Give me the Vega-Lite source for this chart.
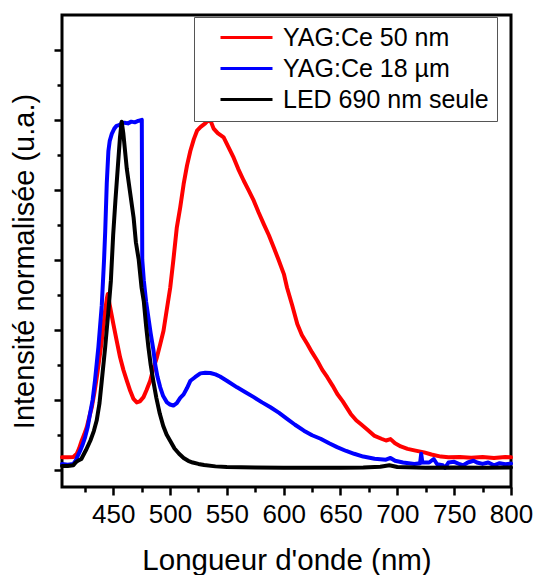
{
  "$schema": "https://vega.github.io/schema/vega-lite/v6.json",
  "width": 449,
  "height": 472,
  "autosize": {"type": "none"},
  "padding": {"left": 62, "top": 15, "right": 23, "bottom": 88},
  "background": "white",
  "config": {"font": "Liberation Sans", "view": {"stroke": "black", "strokeWidth": 3}},
  "data": {"values": [
    {"s": "YAG:Ce 50 nm", "x": 405, "y": 0.035},
    {"s": "YAG:Ce 50 nm", "x": 410, "y": 0.035},
    {"s": "YAG:Ce 50 nm", "x": 415, "y": 0.036},
    {"s": "YAG:Ce 50 nm", "x": 418, "y": 0.045},
    {"s": "YAG:Ce 50 nm", "x": 420, "y": 0.06},
    {"s": "YAG:Ce 50 nm", "x": 422.4, "y": 0.083},
    {"s": "YAG:Ce 50 nm", "x": 424.5, "y": 0.1},
    {"s": "YAG:Ce 50 nm", "x": 426.8, "y": 0.121},
    {"s": "YAG:Ce 50 nm", "x": 429, "y": 0.15},
    {"s": "YAG:Ce 50 nm", "x": 431.2, "y": 0.178},
    {"s": "YAG:Ce 50 nm", "x": 433.5, "y": 0.22},
    {"s": "YAG:Ce 50 nm", "x": 435.6, "y": 0.264},
    {"s": "YAG:Ce 50 nm", "x": 438, "y": 0.32},
    {"s": "YAG:Ce 50 nm", "x": 440, "y": 0.369},
    {"s": "YAG:Ce 50 nm", "x": 442.9, "y": 0.454},
    {"s": "YAG:Ce 50 nm", "x": 444.5, "y": 0.49},
    {"s": "YAG:Ce 50 nm", "x": 445.3, "y": 0.502},
    {"s": "YAG:Ce 50 nm", "x": 447, "y": 0.47},
    {"s": "YAG:Ce 50 nm", "x": 450.2, "y": 0.416},
    {"s": "YAG:Ce 50 nm", "x": 453, "y": 0.37},
    {"s": "YAG:Ce 50 nm", "x": 456.1, "y": 0.321},
    {"s": "YAG:Ce 50 nm", "x": 459, "y": 0.285},
    {"s": "YAG:Ce 50 nm", "x": 462, "y": 0.254},
    {"s": "YAG:Ce 50 nm", "x": 465, "y": 0.225},
    {"s": "YAG:Ce 50 nm", "x": 467.9, "y": 0.202},
    {"s": "YAG:Ce 50 nm", "x": 470.8, "y": 0.192},
    {"s": "YAG:Ce 50 nm", "x": 473.5, "y": 0.195},
    {"s": "YAG:Ce 50 nm", "x": 476.7, "y": 0.207},
    {"s": "YAG:Ce 50 nm", "x": 479.5, "y": 0.228},
    {"s": "YAG:Ce 50 nm", "x": 482.6, "y": 0.254},
    {"s": "YAG:Ce 50 nm", "x": 485.5, "y": 0.29},
    {"s": "YAG:Ce 50 nm", "x": 488.5, "y": 0.321},
    {"s": "YAG:Ce 50 nm", "x": 491.5, "y": 0.36},
    {"s": "YAG:Ce 50 nm", "x": 494.3, "y": 0.397},
    {"s": "YAG:Ce 50 nm", "x": 497.3, "y": 0.46},
    {"s": "YAG:Ce 50 nm", "x": 500.2, "y": 0.52},
    {"s": "YAG:Ce 50 nm", "x": 503, "y": 0.6},
    {"s": "YAG:Ce 50 nm", "x": 506, "y": 0.692},
    {"s": "YAG:Ce 50 nm", "x": 509, "y": 0.75},
    {"s": "YAG:Ce 50 nm", "x": 512, "y": 0.816},
    {"s": "YAG:Ce 50 nm", "x": 515, "y": 0.87},
    {"s": "YAG:Ce 50 nm", "x": 517.9, "y": 0.911},
    {"s": "YAG:Ce 50 nm", "x": 521, "y": 0.945},
    {"s": "YAG:Ce 50 nm", "x": 523.8, "y": 0.969},
    {"s": "YAG:Ce 50 nm", "x": 527, "y": 0.98},
    {"s": "YAG:Ce 50 nm", "x": 531, "y": 0.99},
    {"s": "YAG:Ce 50 nm", "x": 534, "y": 1.0},
    {"s": "YAG:Ce 50 nm", "x": 536, "y": 0.995},
    {"s": "YAG:Ce 50 nm", "x": 538.4, "y": 0.975},
    {"s": "YAG:Ce 50 nm", "x": 542, "y": 0.962},
    {"s": "YAG:Ce 50 nm", "x": 547.2, "y": 0.95},
    {"s": "YAG:Ce 50 nm", "x": 551, "y": 0.925},
    {"s": "YAG:Ce 50 nm", "x": 556, "y": 0.892},
    {"s": "YAG:Ce 50 nm", "x": 560, "y": 0.86},
    {"s": "YAG:Ce 50 nm", "x": 564.9, "y": 0.826},
    {"s": "YAG:Ce 50 nm", "x": 569, "y": 0.8},
    {"s": "YAG:Ce 50 nm", "x": 573.7, "y": 0.769},
    {"s": "YAG:Ce 50 nm", "x": 578, "y": 0.735},
    {"s": "YAG:Ce 50 nm", "x": 582.5, "y": 0.702},
    {"s": "YAG:Ce 50 nm", "x": 587, "y": 0.67},
    {"s": "YAG:Ce 50 nm", "x": 591.3, "y": 0.635},
    {"s": "YAG:Ce 50 nm", "x": 595.5, "y": 0.6},
    {"s": "YAG:Ce 50 nm", "x": 600.2, "y": 0.559},
    {"s": "YAG:Ce 50 nm", "x": 603, "y": 0.52},
    {"s": "YAG:Ce 50 nm", "x": 607.5, "y": 0.47},
    {"s": "YAG:Ce 50 nm", "x": 612, "y": 0.416},
    {"s": "YAG:Ce 50 nm", "x": 616, "y": 0.385},
    {"s": "YAG:Ce 50 nm", "x": 620.8, "y": 0.359},
    {"s": "YAG:Ce 50 nm", "x": 625, "y": 0.335},
    {"s": "YAG:Ce 50 nm", "x": 629.6, "y": 0.311},
    {"s": "YAG:Ce 50 nm", "x": 634, "y": 0.285},
    {"s": "YAG:Ce 50 nm", "x": 638.4, "y": 0.264},
    {"s": "YAG:Ce 50 nm", "x": 643, "y": 0.24},
    {"s": "YAG:Ce 50 nm", "x": 647.2, "y": 0.216},
    {"s": "YAG:Ce 50 nm", "x": 652, "y": 0.195},
    {"s": "YAG:Ce 50 nm", "x": 659, "y": 0.159},
    {"s": "YAG:Ce 50 nm", "x": 664, "y": 0.14},
    {"s": "YAG:Ce 50 nm", "x": 667.8, "y": 0.13},
    {"s": "YAG:Ce 50 nm", "x": 674, "y": 0.113},
    {"s": "YAG:Ce 50 nm", "x": 679.5, "y": 0.097},
    {"s": "YAG:Ce 50 nm", "x": 686, "y": 0.088},
    {"s": "YAG:Ce 50 nm", "x": 690, "y": 0.083},
    {"s": "YAG:Ce 50 nm", "x": 694, "y": 0.087},
    {"s": "YAG:Ce 50 nm", "x": 698, "y": 0.075},
    {"s": "YAG:Ce 50 nm", "x": 703, "y": 0.066},
    {"s": "YAG:Ce 50 nm", "x": 709, "y": 0.059},
    {"s": "YAG:Ce 50 nm", "x": 716, "y": 0.054},
    {"s": "YAG:Ce 50 nm", "x": 723.6, "y": 0.049},
    {"s": "YAG:Ce 50 nm", "x": 730, "y": 0.043},
    {"s": "YAG:Ce 50 nm", "x": 738.3, "y": 0.037},
    {"s": "YAG:Ce 50 nm", "x": 745, "y": 0.035},
    {"s": "YAG:Ce 50 nm", "x": 755, "y": 0.036},
    {"s": "YAG:Ce 50 nm", "x": 765, "y": 0.034},
    {"s": "YAG:Ce 50 nm", "x": 775, "y": 0.036},
    {"s": "YAG:Ce 50 nm", "x": 785, "y": 0.033},
    {"s": "YAG:Ce 50 nm", "x": 795, "y": 0.036},
    {"s": "YAG:Ce 50 nm", "x": 800, "y": 0.035},

    {"s": "YAG:Ce 18 µm", "x": 405, "y": 0.016},
    {"s": "YAG:Ce 18 µm", "x": 410, "y": 0.014},
    {"s": "YAG:Ce 18 µm", "x": 415, "y": 0.016},
    {"s": "YAG:Ce 18 µm", "x": 417, "y": 0.025},
    {"s": "YAG:Ce 18 µm", "x": 419, "y": 0.04},
    {"s": "YAG:Ce 18 µm", "x": 421, "y": 0.054},
    {"s": "YAG:Ce 18 µm", "x": 423, "y": 0.07},
    {"s": "YAG:Ce 18 µm", "x": 425.3, "y": 0.092},
    {"s": "YAG:Ce 18 µm", "x": 427.5, "y": 0.12},
    {"s": "YAG:Ce 18 µm", "x": 429.7, "y": 0.16},
    {"s": "YAG:Ce 18 µm", "x": 432, "y": 0.2},
    {"s": "YAG:Ce 18 µm", "x": 434, "y": 0.254},
    {"s": "YAG:Ce 18 µm", "x": 437, "y": 0.35},
    {"s": "YAG:Ce 18 µm", "x": 440, "y": 0.47},
    {"s": "YAG:Ce 18 µm", "x": 442, "y": 0.6},
    {"s": "YAG:Ce 18 µm", "x": 443, "y": 0.68},
    {"s": "YAG:Ce 18 µm", "x": 444.4, "y": 0.82},
    {"s": "YAG:Ce 18 µm", "x": 445.8, "y": 0.91},
    {"s": "YAG:Ce 18 µm", "x": 447, "y": 0.94},
    {"s": "YAG:Ce 18 µm", "x": 448.8, "y": 0.96},
    {"s": "YAG:Ce 18 µm", "x": 451, "y": 0.975},
    {"s": "YAG:Ce 18 µm", "x": 453, "y": 0.983},
    {"s": "YAG:Ce 18 µm", "x": 455, "y": 0.985},
    {"s": "YAG:Ce 18 µm", "x": 457.6, "y": 0.99},
    {"s": "YAG:Ce 18 µm", "x": 460, "y": 0.992},
    {"s": "YAG:Ce 18 µm", "x": 463, "y": 0.99},
    {"s": "YAG:Ce 18 µm", "x": 466, "y": 0.995},
    {"s": "YAG:Ce 18 µm", "x": 469, "y": 0.993},
    {"s": "YAG:Ce 18 µm", "x": 472, "y": 0.997},
    {"s": "YAG:Ce 18 µm", "x": 475.2, "y": 1.0},
    {"s": "YAG:Ce 18 µm", "x": 475.6, "y": 0.6},
    {"s": "YAG:Ce 18 µm", "x": 477, "y": 0.54},
    {"s": "YAG:Ce 18 µm", "x": 479, "y": 0.48},
    {"s": "YAG:Ce 18 µm", "x": 481, "y": 0.435},
    {"s": "YAG:Ce 18 µm", "x": 483, "y": 0.39},
    {"s": "YAG:Ce 18 µm", "x": 485.5, "y": 0.34},
    {"s": "YAG:Ce 18 µm", "x": 487, "y": 0.3},
    {"s": "YAG:Ce 18 µm", "x": 489, "y": 0.265},
    {"s": "YAG:Ce 18 µm", "x": 491.4, "y": 0.235},
    {"s": "YAG:Ce 18 µm", "x": 494, "y": 0.21},
    {"s": "YAG:Ce 18 µm", "x": 497.3, "y": 0.192},
    {"s": "YAG:Ce 18 µm", "x": 500, "y": 0.186},
    {"s": "YAG:Ce 18 µm", "x": 503, "y": 0.183},
    {"s": "YAG:Ce 18 µm", "x": 506, "y": 0.19},
    {"s": "YAG:Ce 18 µm", "x": 509, "y": 0.205},
    {"s": "YAG:Ce 18 µm", "x": 512, "y": 0.215},
    {"s": "YAG:Ce 18 µm", "x": 515, "y": 0.233},
    {"s": "YAG:Ce 18 µm", "x": 518, "y": 0.254},
    {"s": "YAG:Ce 18 µm", "x": 522, "y": 0.264},
    {"s": "YAG:Ce 18 µm", "x": 526.7, "y": 0.275},
    {"s": "YAG:Ce 18 µm", "x": 531, "y": 0.277},
    {"s": "YAG:Ce 18 µm", "x": 535.5, "y": 0.276},
    {"s": "YAG:Ce 18 µm", "x": 540, "y": 0.272},
    {"s": "YAG:Ce 18 µm", "x": 544, "y": 0.266},
    {"s": "YAG:Ce 18 µm", "x": 550, "y": 0.254},
    {"s": "YAG:Ce 18 µm", "x": 559, "y": 0.235},
    {"s": "YAG:Ce 18 µm", "x": 566, "y": 0.222},
    {"s": "YAG:Ce 18 µm", "x": 573.7, "y": 0.207},
    {"s": "YAG:Ce 18 µm", "x": 581, "y": 0.192},
    {"s": "YAG:Ce 18 µm", "x": 588.4, "y": 0.178},
    {"s": "YAG:Ce 18 µm", "x": 596, "y": 0.162},
    {"s": "YAG:Ce 18 µm", "x": 603, "y": 0.145},
    {"s": "YAG:Ce 18 µm", "x": 610, "y": 0.128},
    {"s": "YAG:Ce 18 µm", "x": 617.8, "y": 0.111},
    {"s": "YAG:Ce 18 µm", "x": 625, "y": 0.098},
    {"s": "YAG:Ce 18 µm", "x": 632.5, "y": 0.088},
    {"s": "YAG:Ce 18 µm", "x": 640, "y": 0.075},
    {"s": "YAG:Ce 18 µm", "x": 647, "y": 0.064},
    {"s": "YAG:Ce 18 µm", "x": 655, "y": 0.053},
    {"s": "YAG:Ce 18 µm", "x": 662, "y": 0.045},
    {"s": "YAG:Ce 18 µm", "x": 670, "y": 0.037},
    {"s": "YAG:Ce 18 µm", "x": 680, "y": 0.031},
    {"s": "YAG:Ce 18 µm", "x": 690, "y": 0.028},
    {"s": "YAG:Ce 18 µm", "x": 694, "y": 0.033},
    {"s": "YAG:Ce 18 µm", "x": 698, "y": 0.025},
    {"s": "YAG:Ce 18 µm", "x": 705, "y": 0.02},
    {"s": "YAG:Ce 18 µm", "x": 710, "y": 0.018},
    {"s": "YAG:Ce 18 µm", "x": 715, "y": 0.016},
    {"s": "YAG:Ce 18 µm", "x": 720, "y": 0.018},
    {"s": "YAG:Ce 18 µm", "x": 721, "y": 0.045},
    {"s": "YAG:Ce 18 µm", "x": 722, "y": 0.02},
    {"s": "YAG:Ce 18 µm", "x": 728, "y": 0.02},
    {"s": "YAG:Ce 18 µm", "x": 732, "y": 0.03},
    {"s": "YAG:Ce 18 µm", "x": 735, "y": 0.015},
    {"s": "YAG:Ce 18 µm", "x": 740, "y": 0.012},
    {"s": "YAG:Ce 18 µm", "x": 742, "y": 0.005},
    {"s": "YAG:Ce 18 µm", "x": 745, "y": 0.02},
    {"s": "YAG:Ce 18 µm", "x": 750, "y": 0.022},
    {"s": "YAG:Ce 18 µm", "x": 755, "y": 0.015},
    {"s": "YAG:Ce 18 µm", "x": 758, "y": 0.012},
    {"s": "YAG:Ce 18 µm", "x": 762, "y": 0.02},
    {"s": "YAG:Ce 18 µm", "x": 767, "y": 0.025},
    {"s": "YAG:Ce 18 µm", "x": 770, "y": 0.02},
    {"s": "YAG:Ce 18 µm", "x": 775, "y": 0.016},
    {"s": "YAG:Ce 18 µm", "x": 780, "y": 0.02},
    {"s": "YAG:Ce 18 µm", "x": 785, "y": 0.012},
    {"s": "YAG:Ce 18 µm", "x": 790, "y": 0.018},
    {"s": "YAG:Ce 18 µm", "x": 795, "y": 0.015},
    {"s": "YAG:Ce 18 µm", "x": 800, "y": 0.017},

    {"s": "LED 690 nm seule", "x": 405, "y": 0.01},
    {"s": "LED 690 nm seule", "x": 410, "y": 0.01},
    {"s": "LED 690 nm seule", "x": 415, "y": 0.012},
    {"s": "LED 690 nm seule", "x": 417, "y": 0.02},
    {"s": "LED 690 nm seule", "x": 419, "y": 0.025},
    {"s": "LED 690 nm seule", "x": 422, "y": 0.03},
    {"s": "LED 690 nm seule", "x": 426, "y": 0.055},
    {"s": "LED 690 nm seule", "x": 430, "y": 0.083},
    {"s": "LED 690 nm seule", "x": 433, "y": 0.11},
    {"s": "LED 690 nm seule", "x": 435.5, "y": 0.14},
    {"s": "LED 690 nm seule", "x": 438, "y": 0.19},
    {"s": "LED 690 nm seule", "x": 440, "y": 0.254},
    {"s": "LED 690 nm seule", "x": 443, "y": 0.35},
    {"s": "LED 690 nm seule", "x": 446, "y": 0.46},
    {"s": "LED 690 nm seule", "x": 448, "y": 0.54},
    {"s": "LED 690 nm seule", "x": 450, "y": 0.67},
    {"s": "LED 690 nm seule", "x": 452, "y": 0.77},
    {"s": "LED 690 nm seule", "x": 454, "y": 0.86},
    {"s": "LED 690 nm seule", "x": 456, "y": 0.95},
    {"s": "LED 690 nm seule", "x": 457.5, "y": 0.995},
    {"s": "LED 690 nm seule", "x": 459, "y": 0.96},
    {"s": "LED 690 nm seule", "x": 462, "y": 0.86},
    {"s": "LED 690 nm seule", "x": 465, "y": 0.79},
    {"s": "LED 690 nm seule", "x": 468, "y": 0.72},
    {"s": "LED 690 nm seule", "x": 470, "y": 0.65},
    {"s": "LED 690 nm seule", "x": 472.5, "y": 0.6},
    {"s": "LED 690 nm seule", "x": 475, "y": 0.52},
    {"s": "LED 690 nm seule", "x": 477, "y": 0.48},
    {"s": "LED 690 nm seule", "x": 479, "y": 0.41},
    {"s": "LED 690 nm seule", "x": 481, "y": 0.35},
    {"s": "LED 690 nm seule", "x": 483, "y": 0.3},
    {"s": "LED 690 nm seule", "x": 485.5, "y": 0.25},
    {"s": "LED 690 nm seule", "x": 488, "y": 0.205},
    {"s": "LED 690 nm seule", "x": 491, "y": 0.16},
    {"s": "LED 690 nm seule", "x": 494, "y": 0.125},
    {"s": "LED 690 nm seule", "x": 497, "y": 0.1},
    {"s": "LED 690 nm seule", "x": 500, "y": 0.083},
    {"s": "LED 690 nm seule", "x": 504, "y": 0.06},
    {"s": "LED 690 nm seule", "x": 508, "y": 0.045},
    {"s": "LED 690 nm seule", "x": 512, "y": 0.033},
    {"s": "LED 690 nm seule", "x": 516, "y": 0.025},
    {"s": "LED 690 nm seule", "x": 520, "y": 0.02},
    {"s": "LED 690 nm seule", "x": 525, "y": 0.016},
    {"s": "LED 690 nm seule", "x": 530, "y": 0.013},
    {"s": "LED 690 nm seule", "x": 540, "y": 0.009},
    {"s": "LED 690 nm seule", "x": 550, "y": 0.007},
    {"s": "LED 690 nm seule", "x": 575, "y": 0.006},
    {"s": "LED 690 nm seule", "x": 600, "y": 0.005},
    {"s": "LED 690 nm seule", "x": 625, "y": 0.005},
    {"s": "LED 690 nm seule", "x": 650, "y": 0.005},
    {"s": "LED 690 nm seule", "x": 670, "y": 0.006},
    {"s": "LED 690 nm seule", "x": 685, "y": 0.008},
    {"s": "LED 690 nm seule", "x": 693, "y": 0.012},
    {"s": "LED 690 nm seule", "x": 700, "y": 0.007},
    {"s": "LED 690 nm seule", "x": 725, "y": 0.005},
    {"s": "LED 690 nm seule", "x": 750, "y": 0.006},
    {"s": "LED 690 nm seule", "x": 775, "y": 0.005},
    {"s": "LED 690 nm seule", "x": 800, "y": 0.006}
  ]},
  "mark": {"type": "line", "strokeWidth": 4, "strokeJoin": "round", "strokeCap": "round"},
  "encoding": {
    "x": {
      "field": "x", "type": "quantitative",
      "scale": {"domain": [405, 800], "nice": false, "zero": false},
      "axis": {
        "values": [425, 450, 475, 500, 525, 550, 575, 600, 625, 650, 675, 700, 725, 750, 775, 800],
        "labelExpr": "datum.value % 50 == 0 ? datum.label : ''",
        "title": "Longueur d'onde (nm)",
        "domain": false, "grid": false,
        "tickColor": "black", "tickWidth": 2.5,
        "tickSize": {"condition": {"test": "datum.value % 50 == 0", "value": 8}, "value": 5},
        "labelFontSize": 26, "labelColor": "black", "labelPadding": 6,
        "labelOverlap": false, "labelFlush": false,
        "titleFontSize": 29.5, "titleFontWeight": "normal", "titleColor": "black", "titlePadding": 19
      }
    },
    "y": {
      "field": "y", "type": "quantitative",
      "scale": {"domain": [-0.05, 1.3], "nice": false, "zero": false},
      "axis": {
        "values": [0, 0.1, 0.2, 0.3, 0.4, 0.5, 0.6, 0.7, 0.8, 0.9, 1.0, 1.1, 1.2],
        "labels": false,
        "title": "Intensité normalisée (u.a.)",
        "domain": false, "grid": false,
        "tickColor": "black", "tickWidth": 2.5,
        "tickSize": {"condition": {"test": "round(datum.value * 10) % 2 == 0", "value": 8}, "value": 5},
        "titleFontSize": 29, "titleFontWeight": "normal", "titleColor": "black", "titlePadding": 13,
        "titleY": 246
      }
    },
    "color": {
      "field": "s", "type": "nominal",
      "scale": {"domain": ["YAG:Ce 50 nm", "YAG:Ce 18 µm", "LED 690 nm seule"], "range": ["#ff0000", "#0000ff", "#000000"]},
      "legend": {
        "title": null, "orient": "none", "legendX": 132, "legendY": 2, "direction": "vertical",
        "padding": 8, "rowPadding": 5,
        "labelFontSize": 25, "labelColor": "black", "labelLimit": 400,
        "symbolType": "M-4,0H4", "symbolSize": 169, "symbolStrokeWidth": 3,
        "symbolOffset": 32, "labelOffset": 24,
        "strokeColor": "#555", "fillColor": "white"
      }
    }
  }
}
